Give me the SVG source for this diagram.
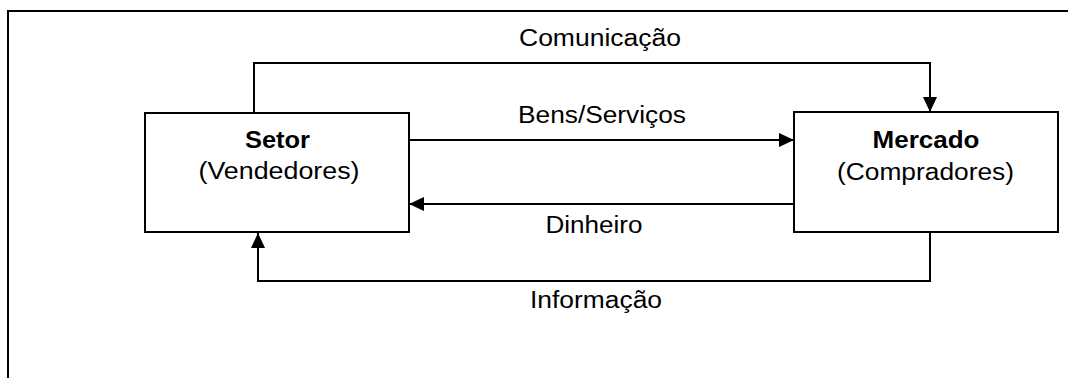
<svg xmlns="http://www.w3.org/2000/svg" width="1068" height="378" viewBox="0 0 1068 378">
  <style>
    .frame { fill: none; stroke: #000; stroke-width: 2; }
    .box { fill: #fff; stroke: #000; stroke-width: 2; }
    .link { fill: none; stroke: #000; stroke-width: 2; }
    .lbl { font-family: "Liberation Sans", Arial, sans-serif; font-size: 23px; fill: #000; text-anchor: middle; }
    .bold { font-weight: bold; }
  </style>
  <defs>
    <marker id="arrow" viewBox="0 0 15 14" refX="15" refY="7" markerWidth="15" markerHeight="14" markerUnits="userSpaceOnUse" orient="auto">
      <path d="M0,0 L15,7 L0,14 Z" fill="#000"/>
    </marker>
  </defs>

  <rect width="1068" height="378" fill="#fff"/>

  <!-- page frame (top and left edges) -->
  <path class="frame" d="M8,378 V11 H1068"/>

  <!-- connectors -->
  <g id="connectors">
    <path class="link" d="M254,113 V63 H930 V112" marker-end="url(#arrow)"/>
    <path class="link" d="M409,140 H794" marker-end="url(#arrow)"/>
    <path class="link" d="M794,204 H409" marker-end="url(#arrow)"/>
    <path class="link" d="M930,232 V281 H258 V233" marker-end="url(#arrow)"/>
    <text class="lbl" x="600" y="46" textLength="162" lengthAdjust="spacingAndGlyphs">Comunicação</text>
    <text class="lbl" x="602" y="123" textLength="168" lengthAdjust="spacingAndGlyphs">Bens/Serviços</text>
    <text class="lbl" x="594" y="233" textLength="97" lengthAdjust="spacingAndGlyphs">Dinheiro</text>
    <text class="lbl" x="596" y="308" textLength="132" lengthAdjust="spacingAndGlyphs">Informação</text>
  </g>

  <!-- sellers -->
  <g id="setor">
    <rect class="box" x="145" y="113" width="264" height="119"/>
    <text class="lbl bold" x="277.5" y="148" textLength="65" lengthAdjust="spacingAndGlyphs">Setor</text>
    <text class="lbl" x="279" y="179" textLength="161" lengthAdjust="spacingAndGlyphs">(Vendedores)</text>
  </g>

  <!-- buyers -->
  <g id="mercado">
    <rect class="box" x="794" y="112" width="264" height="120"/>
    <text class="lbl bold" x="926" y="148" textLength="107" lengthAdjust="spacingAndGlyphs">Mercado</text>
    <text class="lbl" x="925.5" y="180" textLength="177" lengthAdjust="spacingAndGlyphs">(Compradores)</text>
  </g>
</svg>
